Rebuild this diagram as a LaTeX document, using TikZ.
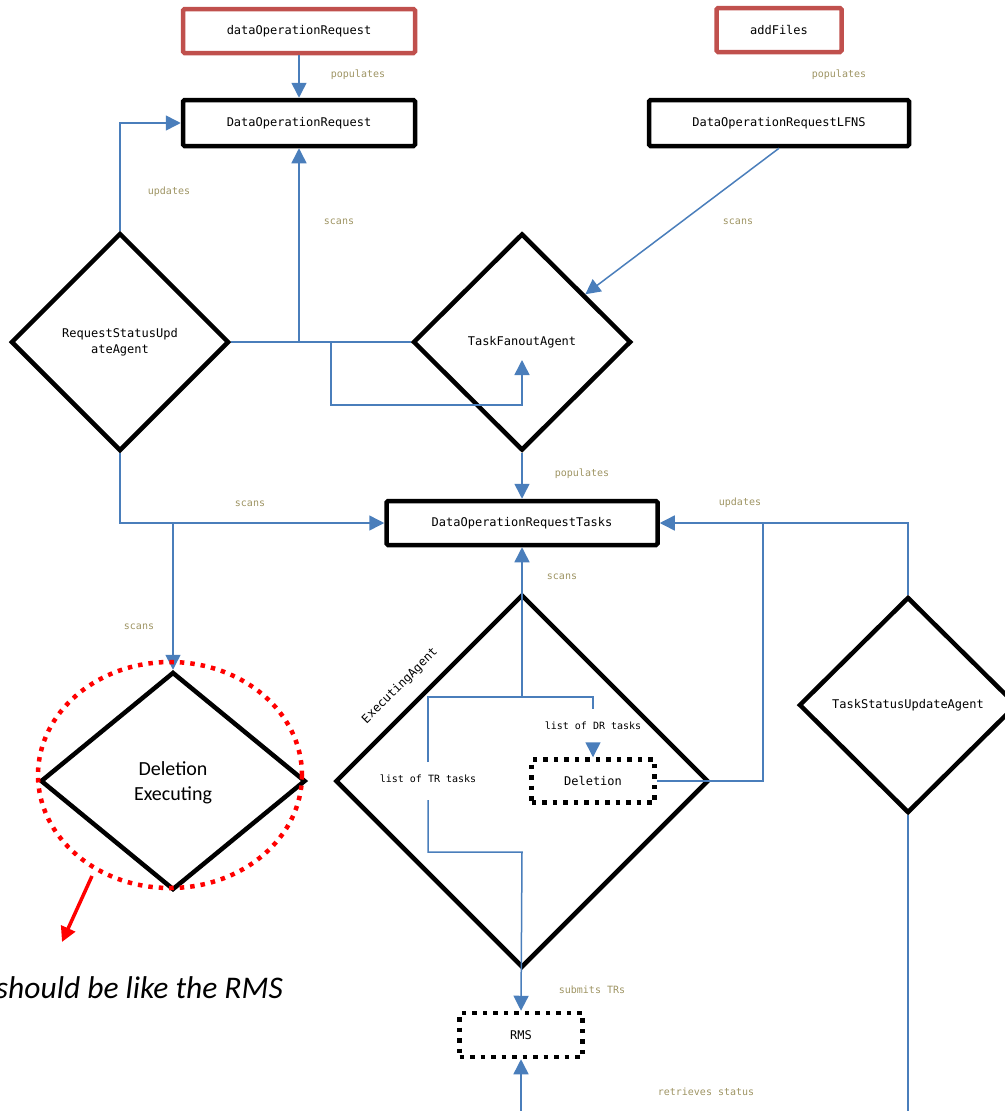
\documentclass[tikz,border=0pt]{standalone}
\usepackage{fontspec}
\setmainfont{Carlito}
\setmonofont{DejaVu Sans Mono}
\usetikzlibrary{shapes.geometric,arrows.meta,calc}
\definecolor{flowblue}{RGB}{74,126,187}
\definecolor{lblolive}{RGB}{158,148,99}
\definecolor{boxred}{RGB}{192,80,77}
\newcommand\boxfont{\ttfamily\fontsize{12}{16}\selectfont}
\newcommand\lblfont{\ttfamily\fontsize{10}{12}\selectfont}
\tikzset{
  box/.style={draw, line width=4.5pt, rounded corners=1.5pt, inner sep=0pt, font=\boxfont},
  redbox/.style={box, draw=boxred},
  dotbox/.style={draw, line width=4.5pt, dash pattern=on 4.5pt off 6pt, inner sep=0pt, font=\boxfont},
  agent/.style={draw, diamond, line width=4.5pt, inner sep=0pt, align=center, font=\boxfont},
  flow/.style={draw=flowblue, line width=1.5pt, -{Triangle[length=15pt,width=15pt]}},
  plain/.style={draw=flowblue, line width=1.5pt},
  lbl/.style={text=lblolive, font=\lblfont, inner sep=0pt},
  inlbl/.style={text=black, font=\lblfont, inner sep=0pt},
}
\begin{document}
\begin{tikzpicture}[x=1pt,y=-1pt]
\useasboundingbox (0,0) rectangle (1004,1111);
% boxes
\node[redbox, minimum width=232, minimum height=44] (dorin) at (299,31) {dataOperationRequest};
\node[box, minimum width=232, minimum height=46] (dor) at (299,123) {DataOperationRequest};
\node[redbox, minimum width=125, minimum height=44] (addf) at (779,30) {addFiles};
\node[box, minimum width=260, minimum height=46] (lfns) at (779,123) {DataOperationRequestLFNS};
\node[box, minimum width=271, minimum height=44] (dort) at (522,523) {DataOperationRequestTasks};
\node[dotbox, minimum width=123, minimum height=43] (del) at (593,781) {Deletion};
\node[dotbox, minimum width=123, minimum height=44] (rms) at (521,1035) {RMS};
% agents
\node[agent, minimum width=218, minimum height=218] (rsua) at (120,342) {RequestStatusUpd\\ateAgent};
\node[agent, minimum width=218, minimum height=217] (tfa) at (522,342) {TaskFanoutAgent};
\node[agent, minimum width=265, minimum height=218] (de) at (173,781) {};
\node[font=\fontsize{20}{25}\selectfont, align=center, inner sep=0pt] (detext) at (173,783) {Deletion\\Executing};
\node[agent, minimum width=373, minimum height=373] (ea) at (522,781) {};
\node[font=\boxfont, rotate=45, inner sep=0pt] (ealbl) at (400,686) {ExecutingAgent};
\node[agent, minimum width=218, minimum height=216] (tsua) at (908,705) {TaskStatusUpdateAgent};
% connector coordinates
\coordinate (j1) at (331,342);
\coordinate (j2) at (522,405);
\coordinate (tfat) at (522,360);
\coordinate (eaj) at (522,697);
\coordinate (trtop) at (428,762);
\coordinate (drend) at (593,709);
\coordinate (drarr) at (593,744);
\coordinate (trbot) at (428,800);
\coordinate (trj) at (522,852);
\coordinate (upj) at (763,523);
\coordinate (tsuaend) at (908,1115);
\coordinate (rmsin) at (521,1115);
% connectors
\draw[flow] (dorin.south) -- (dor.north);
\draw[flow] (rsua.north) |- (dor.west);
\draw[plain] (rsua.east) -- (tfa.west);
\draw[flow] (dor.south |- rsua.east) -- (dor.south);
\draw[flow] (j1) |- (j2) -- (tfat);
\draw[flow] (lfns.south) -- (tfa);
\draw[flow] (tfa.south) -- (dort.north);
\draw[flow] (rsua.south) |- (dort.west);
\draw[flow] (de.north |- dort.west) -- (de.north);
\draw[flow] (eaj) -- (dort.south);
\draw[plain] (trtop) |- (eaj) -| (drend);
\draw[flow] (drarr) -- (del.north);
\draw[flow] (trbot) |- (trj) -- (rms.north);
\draw[flow] (del.east) -| (upj) -- (dort.east);
\draw[plain] (tsua.north) |- (upj);
\draw[plain] (tsua.south) -- (tsuaend);
\draw[flow] (rmsin) -- (rms.south);
% inner labels
\node[inlbl] (drl) at (593,726) {list of DR tasks};
\node[inlbl] (trl) at (428,779) {list of TR tasks};
% connector labels
\node[lbl] at (358,75) {populates};
\node[lbl] at (839,75) {populates};
\node[lbl] at (169,192) {updates};
\node[lbl] at (339,222) {scans};
\node[lbl] at (738,222) {scans};
\node[lbl] at (582,474) {populates};
\node[lbl] at (250,504) {scans};
\node[lbl] at (740,503) {updates};
\node[lbl] at (562,577) {scans};
\node[lbl] at (139,627) {scans};
\node[lbl] at (592,990) {submits TRs};
\node[lbl] at (706,1092) {retrieves status};
% annotation
\draw[red, line width=4.5pt, dash pattern=on 4.5pt off 6pt] (170,775) ellipse [x radius=132, y radius=113];
\coordinate (rstart) at (92,876);
\coordinate (rend) at (62,942);
\draw[red, line width=3.5pt, -{Triangle[length=15pt,width=15pt]}] (rstart) -- (rend);
\node[anchor=base east, inner sep=0pt, font=\itshape\fontsize{31.5}{36}\selectfont] (note) at (283,998) {should be like the RMS};
\end{tikzpicture}
\end{document}
